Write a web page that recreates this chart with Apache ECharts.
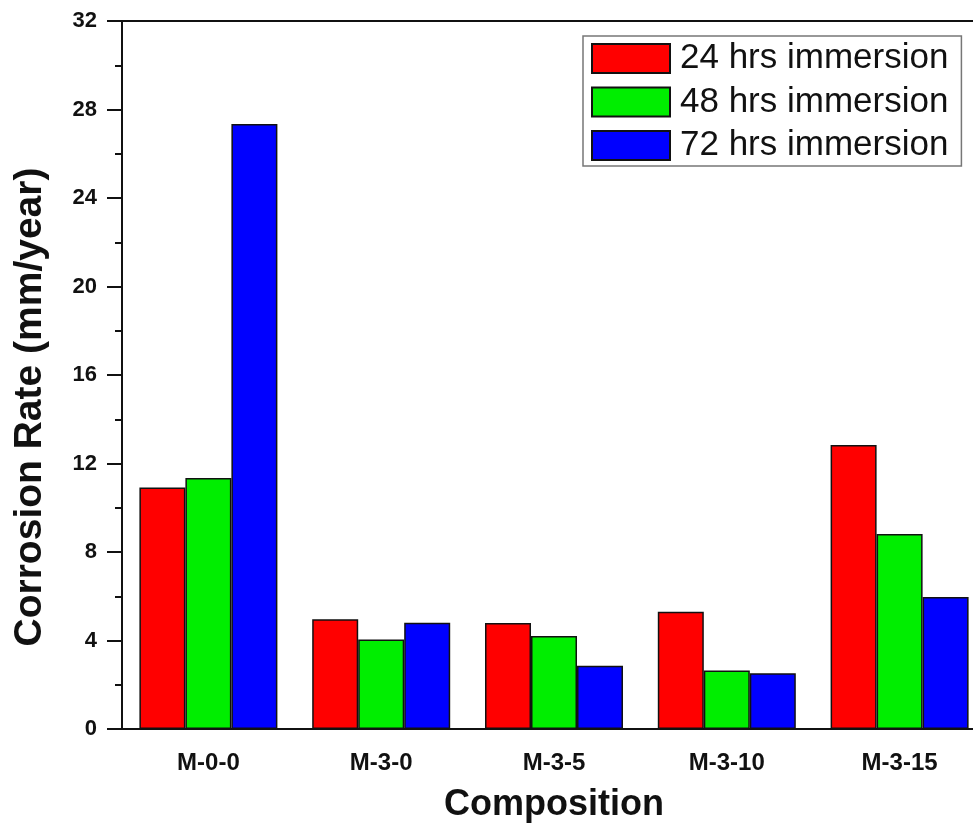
<!DOCTYPE html>
<html>
<head>
<meta charset="utf-8">
<script src="https://cdn.jsdelivr.net/npm/echarts@6/dist/echarts.min.js"></script>
<style>
html,body{margin:0;padding:0;background:#fff;}
#chart{width:973px;height:827px;}
</style>
</head>
<body>
<div id="chart"></div>
<script>
const categories = ['M-0-0', 'M-3-0', 'M-3-5', 'M-3-10', 'M-3-15'];
const seriesNames = ['24 hrs immersion', '48 hrs immersion', '72 hrs immersion'];
const hrs24 = [10.92, 4.96, 4.79, 5.30, 12.84];
const hrs48 = [11.35, 4.05, 4.20, 2.64, 8.81];
const hrs72 = [27.34, 4.80, 2.86, 2.52, 5.97];
const colors = ['#ff0000', '#00ee00', '#0000ff'];
const yTicks = { min: 0, max: 32, interval: 4 };

const font = '"Liberation Sans", Arial, sans-serif';
const chart = echarts.init(document.getElementById('chart'));
const dataSets = [hrs24, hrs48, hrs72];

chart.setOption({
  animation: false,
  backgroundColor: '#fff',
  grid: {
    left: 122, top: 21, width: 864, height: 708,
    outerBoundsMode: 'none',
    show: false,
    containLabel: false
  },
  legend: {
    orient: 'vertical',
    left: 583, top: 36,
    padding: [5, 13, 3, 8],
    itemWidth: 78, itemHeight: 29, itemGap: 8.5,
    borderColor: '#777', borderWidth: 1.5,
    backgroundColor: '#fff',
    icon: 'rect',
    data: seriesNames,
    textStyle: { fontFamily: font, fontSize: 35, color: '#111', padding: [0, 0, 0, 5] }
  },
  xAxis: [{
    type: 'category',
    data: categories,
    name: 'Composition',
    nameLocation: 'middle',
    nameGap: 58,
    nameTextStyle: { fontFamily: font, fontSize: 36, fontWeight: 'bold', color: '#111' },
    axisLine: { lineStyle: { color: '#111', width: 2 } },
    axisTick: { alignWithLabel: true, length: 12, lineStyle: { color: '#111', width: 2 } },
    axisLabel: { fontFamily: font, fontSize: 24, fontWeight: 'bold', color: '#111', margin: 22 },
    splitLine: { show: false }
  }, {
    type: 'category',
    position: 'top',
    data: categories,
    axisLine: { show: true, onZero: false, lineStyle: { color: '#111', width: 2 } },
    axisTick: { show: false },
    axisLabel: { show: false },
    splitLine: { show: false }
  }],
  yAxis: {
    type: 'value',
    min: yTicks.min, max: yTicks.max, interval: yTicks.interval,
    name: 'Corrosion Rate (mm/year)',
    nameLocation: 'middle',
    nameGap: 72,
    nameTextStyle: { fontFamily: font, fontSize: 39, fontWeight: 'bold', color: '#111', padding: [0, 64, 0, 0] },
    axisLine: { show: true, lineStyle: { color: '#111', width: 2 } },
    axisTick: { show: true, length: 15, lineStyle: { color: '#111', width: 2 } },
    minorTick: { show: true, splitNumber: 2, length: 7, lineStyle: { color: '#111', width: 2 } },
    axisLabel: { fontFamily: font, fontSize: 22, fontWeight: 'bold', color: '#111', margin: 25 },
    splitLine: { show: false }
  },
  series: seriesNames.map((n, i) => ({
    name: n,
    type: 'bar',
    xAxisIndex: 0,
    data: dataSets[i],
    barWidth: 46,
    barGap: '0%',
    itemStyle: { color: colors[i], borderColor: '#111', borderWidth: 1.5 }
  }))
});
</script>
</body>
</html>
